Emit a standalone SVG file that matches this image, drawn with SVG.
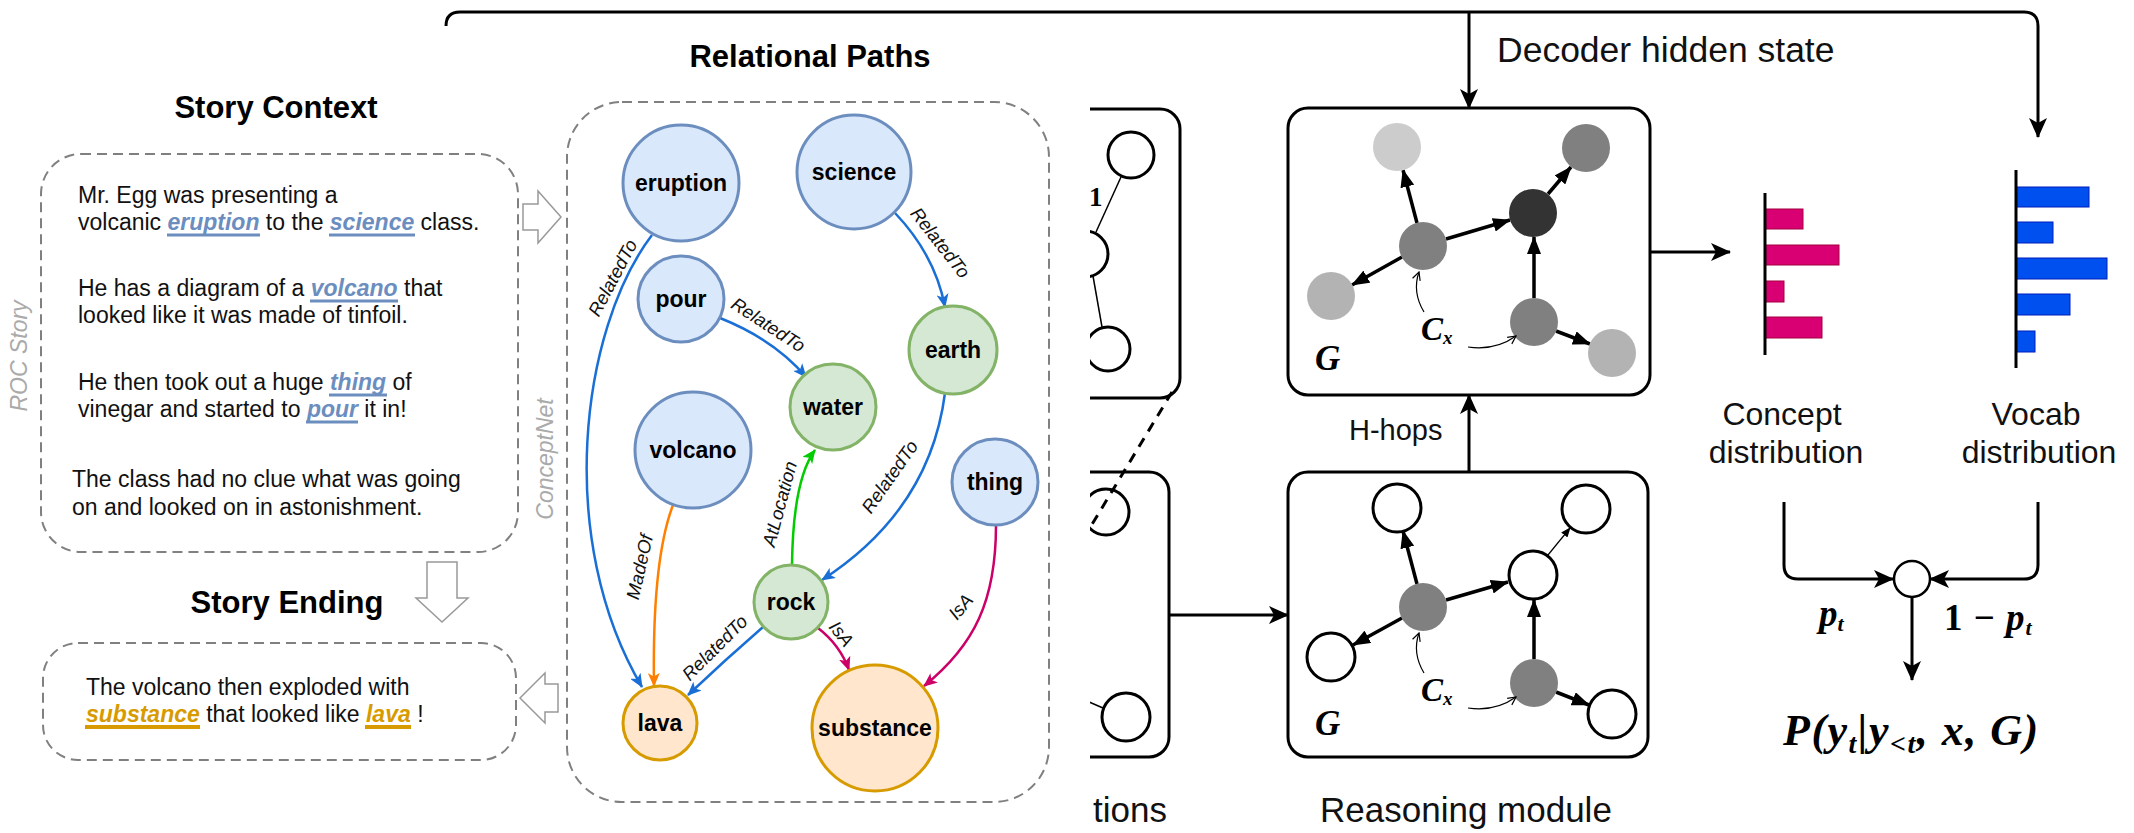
<svg xmlns="http://www.w3.org/2000/svg" width="2134" height="833" viewBox="0 0 2134 833">
<style>
.sans{font-family:"Liberation Sans",Arial,sans-serif}
.title{font-family:"Liberation Sans",Arial,sans-serif;font-size:31px;font-weight:bold;fill:#000;text-anchor:middle}
.story{font-family:"Liberation Sans",Arial,sans-serif;font-size:23px;fill:#111}
.hb{font-weight:bold;font-style:italic;fill:#6c8ebf}
.hg{font-weight:bold;font-style:italic;fill:#d79b00}
.ulb{stroke:#6c8ebf;stroke-width:3}
.ulg{stroke:#d79b00;stroke-width:4}
.dbox{fill:none;stroke:#808080;stroke-width:2;stroke-dasharray:10 6}
.hollow{fill:#fff;stroke:#999;stroke-width:1.5}
.side{font-family:"Liberation Sans",Arial,sans-serif;font-size:23px;font-style:italic;fill:#aaa;text-anchor:middle}
.nb{fill:#dae8fc;stroke:#6c8ebf;stroke-width:3}
.ng{fill:#d5e8d4;stroke:#82b366;stroke-width:3}
.no{fill:#ffe6cc;stroke:#d79b00;stroke-width:3}
.nl{font-family:"Liberation Sans",Arial,sans-serif;font-size:23px;font-weight:bold;fill:#000;text-anchor:middle}
.el{font-family:"Liberation Sans",Arial,sans-serif;font-size:18.5px;font-style:italic;fill:#111;text-anchor:middle}
.eb{fill:none;stroke:#1a6fd6;stroke-width:2.5}
.eg{fill:none;stroke:#00cc00;stroke-width:2.5}
.eo{fill:none;stroke:#ff8000;stroke-width:2.5}
.em{fill:none;stroke:#cc0066;stroke-width:2.5}
.blk{fill:none;stroke:#000;stroke-width:3}
.rbox{fill:#fff;stroke:#000;stroke-width:3}
.ge{fill:none;stroke:#000;stroke-width:3.5}
.thin{fill:none;stroke:#000;stroke-width:1.2}
.math{font-family:"Liberation Serif","Times New Roman",serif;font-weight:bold;font-style:italic;fill:#000}
.up{font-style:normal}
.lbl{font-family:"Liberation Sans",Arial,sans-serif;fill:#111}
.hn{fill:#fff;stroke:#000;stroke-width:3}
</style>
<defs>
<marker id="mk" markerUnits="userSpaceOnUse" viewBox="0 0 20 18" refX="19" refY="9" markerWidth="20" markerHeight="18" orient="auto"><path d="M0,0 L20,9 L0,18 L5,9 Z" fill="#000"/></marker>
<marker id="mg" markerUnits="userSpaceOnUse" viewBox="0 0 18 14" refX="17" refY="7" markerWidth="18" markerHeight="14" orient="auto"><path d="M0,0 L18,7 L0,14 Z" fill="#000"/></marker>
<marker id="mt" markerUnits="userSpaceOnUse" viewBox="0 0 10 8" refX="9" refY="4" markerWidth="10" markerHeight="8" orient="auto"><path d="M0,0 L10,4 L0,8 Z" fill="#000"/></marker>
<marker id="mo" markerUnits="userSpaceOnUse" viewBox="0 0 10 10" refX="9" refY="5" markerWidth="10" markerHeight="10" orient="auto"><path d="M1,1 L9,5 L1,9" fill="none" stroke="#000" stroke-width="1.2"/></marker>
<marker id="mb" markerUnits="userSpaceOnUse" viewBox="0 0 14 12" refX="13" refY="6" markerWidth="14" markerHeight="12" orient="auto"><path d="M0,0 L14,6 L0,12 L3.5,6 Z" fill="#1a6fd6"/></marker>
<marker id="mgr" markerUnits="userSpaceOnUse" viewBox="0 0 14 12" refX="13" refY="6" markerWidth="14" markerHeight="12" orient="auto"><path d="M0,0 L14,6 L0,12 L3.5,6 Z" fill="#00cc00"/></marker>
<marker id="mor" markerUnits="userSpaceOnUse" viewBox="0 0 14 12" refX="13" refY="6" markerWidth="14" markerHeight="12" orient="auto"><path d="M0,0 L14,6 L0,12 L3.5,6 Z" fill="#ff8000"/></marker>
<marker id="mm" markerUnits="userSpaceOnUse" viewBox="0 0 14 12" refX="13" refY="6" markerWidth="14" markerHeight="12" orient="auto"><path d="M0,0 L14,6 L0,12 L3.5,6 Z" fill="#cc0066"/></marker>
<clipPath id="cut"><rect x="1090" y="30" width="200" height="803"/></clipPath>
</defs>

<!-- partially hidden representation panel -->
<g id="representation" clip-path="url(#cut)">
  <rect x="900" y="109" width="280" height="289" rx="20" class="rbox"/>
  <circle cx="1131" cy="155" r="23" class="hn" stroke-width="2.5"/>
  <circle cx="1085" cy="254" r="23" class="hn" stroke-width="2.5"/>
  <circle cx="1108" cy="349" r="22" class="hn" stroke-width="2.5"/>
  <line x1="1121" y1="177" x2="1096" y2="232" stroke="#000" stroke-width="1.5"/>
  <line x1="1093" y1="276" x2="1102" y2="327" stroke="#000" stroke-width="1.5"/>
  <text x="1089" y="206" class="math up" font-size="27">1</text>
  <rect x="900" y="472" width="269" height="285" rx="20" class="rbox"/>
  <circle cx="1106" cy="512" r="23" class="hn" stroke-width="2.5"/>
  <circle cx="1126" cy="717" r="24" class="hn" stroke-width="2.5"/>
  <line x1="1080" y1="698" x2="1103" y2="708" stroke="#000" stroke-width="1.5"/>
  <line x1="1172" y1="392" x2="1085" y2="536" stroke="#000" stroke-width="3" stroke-dasharray="10 8"/>
  <text x="1167" y="822" class="lbl" font-size="35" text-anchor="end">tions</text>
</g>

<!-- decoder hidden state -->
<g id="decoder">
  <path d="M446,26 Q446,12 460,12 H2024 Q2038,12 2038,26 V137" class="blk" marker-end="url(#mk)"/>
  <path d="M1469,12 V108" class="blk" stroke-width="2.5" marker-end="url(#mk)"/>
  <text x="1497" y="62" class="lbl" font-size="35.5">Decoder hidden state</text>
</g>

<!-- reasoning module top (after H hops) -->
<g id="graph-top">
  <rect x="1288" y="108" width="362" height="287" rx="20" class="rbox"/>
  <line x1="1417" y1="223" x2="1403" y2="170" class="ge" marker-end="url(#mg)"/>
  <line x1="1446" y1="239" x2="1510" y2="220" class="ge" marker-end="url(#mg)"/>
  <line x1="1402" y1="257" x2="1352" y2="285" class="ge" marker-end="url(#mg)"/>
  <line x1="1548" y1="194" x2="1571" y2="167" class="ge" marker-end="url(#mg)"/>
  <line x1="1534" y1="298" x2="1534" y2="237" class="ge" marker-end="url(#mg)"/>
  <line x1="1556" y1="331" x2="1590" y2="344" class="ge" marker-end="url(#mg)"/>
  <circle cx="1397" cy="147" r="24" fill="#cccccc"/>
  <circle cx="1586" cy="148" r="24" fill="#808080"/>
  <circle cx="1423" cy="246" r="24" fill="#808080"/>
  <circle cx="1533" cy="213" r="24" fill="#333333"/>
  <circle cx="1331" cy="296" r="24" fill="#b3b3b3"/>
  <circle cx="1534" cy="322" r="24" fill="#808080"/>
  <circle cx="1612" cy="353" r="24" fill="#b3b3b3"/>
  <text x="1315" y="370" class="math" font-size="35">G</text>
  <text x="1421" y="340" class="math" font-size="33">C<tspan font-size="19" dy="4">x</tspan></text>
  <path d="M1424,312 Q1412,292 1419,272" class="thin" marker-end="url(#mo)"/>
  <path d="M1468,347 Q1495,351 1516,336" class="thin" marker-end="url(#mo)"/>
</g>

<!-- reasoning module bottom -->
<g id="graph-bottom">
  <rect x="1288" y="472" width="360" height="285" rx="20" class="rbox"/>
  <line x1="1417" y1="584" x2="1403" y2="531" class="ge" marker-end="url(#mg)"/>
  <line x1="1446" y1="600" x2="1508" y2="582" class="ge" marker-end="url(#mg)"/>
  <line x1="1402" y1="618" x2="1353" y2="645" class="ge" marker-end="url(#mg)"/>
  <line x1="1548" y1="555" x2="1570" y2="528" stroke="#000" stroke-width="1.2" marker-end="url(#mt)"/>
  <line x1="1534" y1="659" x2="1534" y2="600" class="ge" marker-end="url(#mg)"/>
  <line x1="1556" y1="692" x2="1589" y2="705" class="ge" marker-end="url(#mg)"/>
  <circle cx="1397" cy="508" r="24" class="hn"/>
  <circle cx="1586" cy="509" r="24" class="hn"/>
  <circle cx="1423" cy="607" r="24" fill="#808080"/>
  <circle cx="1533" cy="575" r="24" class="hn"/>
  <circle cx="1331" cy="657" r="24" class="hn"/>
  <circle cx="1534" cy="683" r="24" fill="#808080"/>
  <circle cx="1612" cy="714" r="24" class="hn"/>
  <text x="1315" y="735" class="math" font-size="35">G</text>
  <text x="1421" y="701" class="math" font-size="33">C<tspan font-size="19" dy="4">x</tspan></text>
  <path d="M1424,673 Q1412,653 1419,633" class="thin" marker-end="url(#mo)"/>
  <path d="M1468,708 Q1495,712 1516,697" class="thin" marker-end="url(#mo)"/>
  <text x="1320" y="822" class="lbl" font-size="35">Reasoning module</text>
</g>

<g id="model-connectors">
  <path d="M1169,615 H1288" class="blk" stroke-width="2.5" marker-end="url(#mk)"/>
  <path d="M1469,472 V395" class="blk" stroke-width="2.5" marker-end="url(#mk)"/>
  <text x="1349" y="440" class="lbl" font-size="29">H-hops</text>
  <path d="M1650,252 H1730" class="blk" stroke-width="2.5" marker-end="url(#mk)"/>
</g>

<!-- distributions -->
<g id="concept-dist">
  <rect x="1765" y="209" width="38" height="20" fill="#d80073" stroke="#a50040"/>
  <rect x="1765" y="245" width="74" height="20" fill="#d80073" stroke="#a50040"/>
  <rect x="1765" y="281" width="19" height="21" fill="#d80073" stroke="#a50040"/>
  <rect x="1765" y="317" width="57" height="21" fill="#d80073" stroke="#a50040"/>
  <line x1="1765" y1="193" x2="1765" y2="355" stroke="#000" stroke-width="3"/>
  <text x="1782" y="425" class="lbl" font-size="32" text-anchor="middle">Concept</text>
  <text x="1786" y="463" class="lbl" font-size="32" text-anchor="middle">distribution</text>
</g>
<g id="vocab-dist">
  <rect x="2016" y="187" width="73" height="20" fill="#0050ef" stroke="#001dbc"/>
  <rect x="2016" y="222" width="37" height="21" fill="#0050ef" stroke="#001dbc"/>
  <rect x="2016" y="258" width="91" height="21" fill="#0050ef" stroke="#001dbc"/>
  <rect x="2016" y="294" width="54" height="21" fill="#0050ef" stroke="#001dbc"/>
  <rect x="2016" y="331" width="19" height="21" fill="#0050ef" stroke="#001dbc"/>
  <line x1="2016" y1="170" x2="2016" y2="368" stroke="#000" stroke-width="3"/>
  <text x="2036" y="425" class="lbl" font-size="32" text-anchor="middle">Vocab</text>
  <text x="2039" y="463" class="lbl" font-size="32" text-anchor="middle">distribution</text>
</g>
<g id="mixer">
  <circle cx="1912" cy="579" r="18" fill="#fff" stroke="#000" stroke-width="2.5"/>
  <text x="1819" y="626" class="math" font-size="37">p<tspan font-size="22" dy="5">t</tspan></text>
  <text x="1944" y="630" class="math" font-size="37" letter-spacing="1"><tspan class="up">1 − </tspan>p<tspan font-size="22" dy="5">t</tspan></text>
  <text x="1783" y="745" class="math" font-size="44" letter-spacing="1.5">P(y<tspan font-size="28" dy="8">t</tspan><tspan dy="-8">|y</tspan><tspan font-size="28" dy="8">&lt;t</tspan><tspan dy="-8">, x, G)</tspan></text>
</g>
<g id="mixer-connectors">
  <path d="M1784,502 V565 Q1784,579 1798,579 H1893" class="blk" stroke-width="2.5" marker-end="url(#mk)"/>
  <path d="M2038,502 V565 Q2038,579 2024,579 H1930" class="blk" stroke-width="2.5" marker-end="url(#mk)"/>
  <path d="M1912,597 V680" class="blk" stroke-width="2.5" marker-end="url(#mk)"/>
</g>

<!-- story context -->
<g id="story-context">
  <text x="276" y="118" class="title">Story Context</text>
  <rect x="41" y="154" width="477" height="398" rx="40" class="dbox"/>
  <text x="78" y="203" class="story">Mr. Egg was presenting a</text>
  <text x="78" y="230" class="story">volcanic <tspan class="hb">eruption</tspan> to the <tspan class="hb">science</tspan> class.</text>
  <text x="78" y="296" class="story">He has a diagram of a <tspan class="hb">volcano</tspan> that</text>
  <text x="78" y="323" class="story">looked like it was made of tinfoil.</text>
  <text x="78" y="390" class="story">He then took out a huge <tspan class="hb">thing</tspan> of</text>
  <text x="78" y="417" class="story">vinegar and started to <tspan class="hb">pour</tspan> it in!</text>
  <text x="72" y="487" class="story">The class had no clue what was going</text>
  <text x="72" y="515" class="story">on and looked on in astonishment.</text>
  <line x1="167" y1="235" x2="260" y2="235" class="ulb"/>
  <line x1="329" y1="235" x2="415" y2="235" class="ulb"/>
  <line x1="310" y1="301" x2="398" y2="301" class="ulb"/>
  <line x1="329" y1="395" x2="387" y2="395" class="ulb"/>
  <line x1="306" y1="422" x2="358" y2="422" class="ulb"/>
  <text transform="translate(27,356) rotate(-90)" class="side">ROC Story</text>
</g>

<g id="story-ending">
  <text x="287" y="613" class="title">Story Ending</text>
  <rect x="43" y="643" width="473" height="117" rx="35" class="dbox"/>
  <text x="86" y="695" class="story">The volcano then exploded with</text>
  <text x="86" y="722" class="story"><tspan class="hg">substance</tspan> that looked like <tspan class="hg">lava</tspan> !</text>
  <line x1="85" y1="727" x2="200" y2="727" class="ulg"/>
  <line x1="365" y1="727" x2="411" y2="727" class="ulg"/>
</g>

<g id="story-arrows">
  <path d="M523,204 H538 V191 L561,217 L538,243 V230 H523 Z" class="hollow"/>
  <path d="M427,562 H457 V598 H468 L442,622 L416,598 H427 Z" class="hollow"/>
  <path d="M558,684 H545 V673 L520,698 L545,723 V712 H558 Z" class="hollow"/>
</g>

<!-- relational paths -->
<g id="relational-frame">
  <text x="810" y="67" class="title">Relational Paths</text>
  <rect x="567" y="102" width="482" height="700" rx="55" class="dbox"/>
  <text transform="translate(553,459) rotate(-90)" class="side">ConceptNet</text>
</g>

<g id="relational-edges">
  <path d="M652,235 C580,330 555,540 642,687" class="eb" marker-end="url(#mb)"/>
  <path d="M895,213 Q935,255 945,307" class="eb" marker-end="url(#mb)"/>
  <path d="M720,318 Q775,340 806,377" class="eb" marker-end="url(#mb)"/>
  <path d="M945,393 Q930,510 822,580" class="eb" marker-end="url(#mb)"/>
  <path d="M792,565 Q793,480 815,450" class="eg" marker-end="url(#mgr)"/>
  <path d="M673,505 Q652,560 654,686" class="eo" marker-end="url(#mor)"/>
  <path d="M763,627 Q725,660 688,695" class="eb" marker-end="url(#mb)"/>
  <path d="M818,628 Q840,645 849,670" class="em" marker-end="url(#mm)"/>
  <path d="M996,525 C996,600 975,645 924,686" class="em" marker-end="url(#mm)"/>
  <text transform="translate(613,278) rotate(-62)" class="el" dy="6">RelatedTo</text>
  <text transform="translate(940,243) rotate(52)" class="el" dy="6">RelatedTo</text>
  <text transform="translate(768,325) rotate(33)" class="el" dy="6">RelatedTo</text>
  <text transform="translate(890,477) rotate(-55)" class="el" dy="6">RelatedTo</text>
  <text transform="translate(780,504) rotate(-75)" class="el" dy="6">AtLocation</text>
  <text transform="translate(640,567) rotate(-77)" class="el" dy="6">MadeOf</text>
  <text transform="translate(715,648) rotate(-45)" class="el" dy="6">RelatedTo</text>
  <text transform="translate(841,634) rotate(52)" class="el" dy="6">IsA</text>
  <text transform="translate(961,607) rotate(-50)" class="el" dy="6">IsA</text>
</g>

<g id="node-eruption"><circle cx="681" cy="183" r="58" class="nb"/><text x="681" y="191" class="nl">eruption</text></g>
<g id="node-science"><circle cx="854" cy="172" r="57" class="nb"/><text x="854" y="180" class="nl">science</text></g>
<g id="node-pour"><circle cx="681" cy="299" r="43" class="nb"/><text x="681" y="307" class="nl">pour</text></g>
<g id="node-water"><circle cx="833" cy="407" r="43" class="ng"/><text x="833" y="415" class="nl">water</text></g>
<g id="node-earth"><circle cx="953" cy="350" r="44" class="ng"/><text x="953" y="358" class="nl">earth</text></g>
<g id="node-volcano"><circle cx="693" cy="450" r="58" class="nb"/><text x="693" y="458" class="nl">volcano</text></g>
<g id="node-thing"><circle cx="995" cy="482" r="43" class="nb"/><text x="995" y="490" class="nl">thing</text></g>
<g id="node-rock"><circle cx="791" cy="602" r="37" class="ng"/><text x="791" y="610" class="nl">rock</text></g>
<g id="node-lava"><circle cx="660" cy="723" r="37" class="no"/><text x="660" y="731" class="nl">lava</text></g>
<g id="node-substance"><circle cx="875" cy="728" r="63" class="no"/><text x="875" y="736" class="nl">substance</text></g>
</svg>
